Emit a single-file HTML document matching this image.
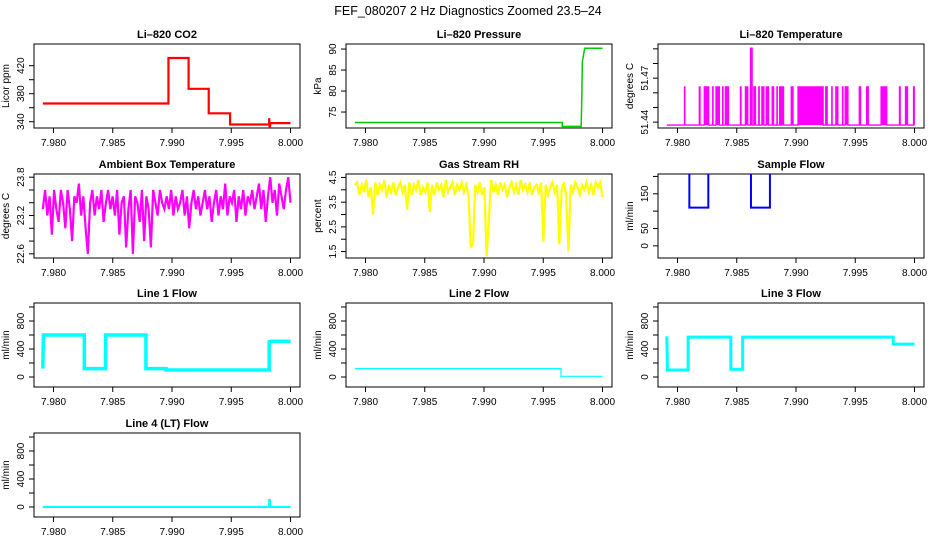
<!DOCTYPE html>
<html><head><meta charset="utf-8"><style>
body{margin:0;background:#fff}
svg{display:block;font-family:"Liberation Sans",Arial,sans-serif}
</style></head><body>
<svg id="c" width="936" height="540" viewBox="0 0 936 540">
<text x="468" y="15" text-anchor="middle" font-size="12.5">FEF_080207  2 Hz Diagnostics Zoomed 23.5–24</text>
</svg>
<script>
const xTicks=[7.980,7.985,7.990,7.995,8.000];
const xTickLabels=["7.980","7.985","7.990","7.995","8.000"];
const co2X=[7.9791,7.9897,7.9897,7.9914,7.9914,7.9931,7.9931,7.9949,7.9949,7.9982,7.9982,7.99825,7.9983,8.0000];
const co2Y=[366,366,431,431,387,387,352,352,336,336,345,330,338,338];
const presX=[7.9791,7.9966,7.9966,7.9982,7.99825,7.9983,7.9985,8.0000];
const presY=[72.5,72.5,71.6,71.6,78,87,90.2,90.2];
const tempPulseStart=[7.98059,7.98184,7.98226,7.98297,7.98325,7.98381,7.98404,7.98427,7.98531,7.98573,7.98616,7.98644,7.98686,7.98712,7.98749,7.98799,7.98839,7.98862,7.98880,7.98960,7.99017,7.99251,7.99302,7.99336,7.99393,7.99415,7.99534,7.99596,7.99718,7.99873,7.99924,7.99992];
const tempPulseEnd=[7.98062,7.98190,7.98263,7.98300,7.98353,7.98384,7.98418,7.98430,7.98536,7.98593,7.98630,7.98658,7.98690,7.98729,7.98768,7.98811,7.98842,7.98870,7.98895,7.98975,7.99229,7.99263,7.99305,7.99353,7.99396,7.99438,7.99545,7.99610,7.99766,7.99879,7.99941,7.99998];
const tempHigh=51.464, tempBase=51.438, tempSpikeX=7.98630, tempSpikeY=51.4905;
const ambY=[23.3,23.6,23.2,23.5,22.9,23.6,23.3,23.1,23.6,23.4,23.0,23.6,23.3,22.8,23.5,23.4,23.7,23.2,23.5,23.0,22.6,23.4,23.6,23.2,23.5,23.3,23.6,23.1,23.4,23.6,23.3,23.5,23.2,23.6,22.9,23.4,23.5,22.7,23.3,23.6,22.6,23.5,23.4,23.1,23.6,22.8,23.5,23.3,22.7,23.6,23.4,23.2,23.6,23.4,23.3,23.5,23.3,23.6,23.2,23.5,23.3,23.4,23.6,23.2,23.5,23.0,23.4,23.6,23.3,23.5,23.2,23.4,23.6,23.3,23.5,23.1,23.4,23.6,23.2,23.5,23.3,23.7,23.2,23.5,23.4,23.6,23.1,23.5,23.3,23.6,23.2,23.5,23.4,23.6,23.3,23.5,23.7,23.3,23.6,23.1,23.5,23.8,23.4,23.6,23.2,23.7,23.5,23.3,23.6,23.8,23.4];
const rhY=[4.2,4.3,3.8,4.2,3.9,4.4,3.7,4.1,3.0,4.3,3.8,4.2,4.0,4.4,3.7,4.2,3.9,4.3,3.8,4.1,4.3,3.9,4.2,3.2,4.3,3.8,4.2,4.0,4.4,3.8,4.1,3.9,4.3,3.1,4.2,3.8,4.3,4.0,4.2,3.7,4.4,3.9,4.1,4.3,3.8,4.2,4.0,4.3,3.9,4.2,3.8,1.7,1.8,4.2,3.9,4.3,3.8,4.1,1.3,2.8,4.4,3.9,4.2,3.8,4.3,4.0,4.2,3.7,4.1,4.3,3.9,4.2,3.8,4.4,4.0,4.2,3.9,4.3,3.8,4.1,4.2,3.9,4.3,1.9,4.2,3.8,4.1,4.3,3.9,4.2,1.8,4.0,4.3,3.8,1.5,4.2,3.9,4.3,4.1,3.8,4.2,4.0,4.3,3.9,4.2,3.8,4.3,4.1,4.3,3.7];
const sampX=[7.9791,7.9810,7.9810,7.9826,7.9826,7.9862,7.9862,7.9878,7.9878,8.0000];
const sampY=[400,400,110,110,400,400,110,110,400,400];
const l1X=[7.9791,7.97915,7.9826,7.9826,7.9844,7.9844,7.9878,7.9878,7.9895,7.9895,7.9982,7.9982,7.9984,8.0000];
const l1Y=[120,600,600,120,120,600,600,120,120,100,100,500,510,510];
const l2X=[7.9791,7.9965,7.9965,8.0000];
const l2Y=[120,120,10,10];
const l3X=[7.9791,7.97915,7.9792,7.9809,7.9809,7.9845,7.9845,7.9855,7.9855,7.9982,7.9982,8.0000];
const l3Y=[580,100,100,100,570,570,110,110,570,570,470,470];
const l4X=[7.9791,7.9982,7.9982,7.99825,7.9983,8.0000];
const l4Y=[0,0,100,100,0,0];

const svg=document.getElementById('c');
const NS='http://www.w3.org/2000/svg';
function mk(tag,attrs,parent){const e=document.createElementNS(NS,tag);for(const k in attrs)e.setAttribute(k,attrs[k]);(parent||svg).appendChild(e);return e;}
const colL=[34,346,658], rowT=[44,174,303,433], W=266, H=84;

function panel(id,col,row,title,ylab,ymin,ymax,yticks,ylabels,color){
  const L=colL[col],T=rowT[row];
  const g=mk('g',{});
  
  
  const sx=v=>L+19.5+(v-7.980)/0.02*237;
  const sy=v=>T+H-(v-ymin)/(ymax-ymin)*H;
  const t=mk('text',{x:L+W/2,y:T-6,'text-anchor':'middle','font-size':11,'font-weight':'bold'},g);t.textContent=title;
  
  
  const box=mk('rect',{x:L,y:T,width:W,height:H,fill:'none',stroke:'#000','stroke-width':1},g);
  
  
  xTicks.forEach((v,i)=>{
    mk('line',{x1:sx(v),x2:sx(v),y1:T+H,y2:T+H+5,stroke:'#000'},g);
    const tl=mk('text',{x:sx(v),y:T+H+18,'text-anchor':'middle','font-size':10},g);tl.textContent=xTickLabels[i];
    
    
  });
  yticks.forEach(v=>{mk('line',{x1:L,x2:L-5,y1:sy(v),y2:sy(v),stroke:'#000'},g);});
  ylabels.forEach(v=>{
    const y=sy(v);
    const tl=mk('text',{x:L-10,y:y,'text-anchor':'middle','font-size':10,transform:`rotate(-90 ${L-10} ${y})`},g);tl.textContent=String(v);
    
    
  });
  const yl=mk('text',{x:L-25,y:T+H/2,'text-anchor':'middle','font-size':10,transform:`rotate(-90 ${L-25} ${T+H/2})`},g);yl.textContent=ylab;
  
  
  const cid='clip-'+id;
  const cp=mk('clipPath',{id:cid},g);mk('rect',{x:L,y:T,width:W,height:H},cp);
  const dg=mk('g',{'clip-path':`url(#${cid})`},g);
  return {sx,sy,dg,color};
}
function line(p,xs,ys,sw,name){
  const d=xs.map((x,i)=>(i?'L':'M')+p.sx(x).toFixed(2)+' '+p.sy(ys[i]).toFixed(2)).join(' ');
  const e=mk('path',{d:d,fill:'none',stroke:p.color,'stroke-width':sw,'stroke-linejoin':'miter'},p.dg);
  
  
}
function evenX(n){const a=[];for(let i=0;i<n;i++)a.push(7.9791+i/(n-1)*0.0209);return a;}

let p=panel('co2',0,0,'Li–820 CO2','Licor ppm',331,451,[340,360,380,400,420],[340,380,420],'#ff0000');
line(p,co2X,co2Y,2.2,'co2-line');
p=panel('pressure',1,0,'Li–820 Pressure','kPa',71.2,91.2,[75,80,85,90],[75,80,85,90],'#00cc00');
line(p,presX,presY,1.5,'pressure-line');
p=panel('li-temp',2,0,'Li–820 Temperature','degrees C',51.436,51.4933,[51.44,51.45,51.46,51.47,51.48,51.49],[51.44,51.47],'#ff00ff');
{const xs=[7.9791],ys=[tempBase];
 tempPulseStart.forEach((s,i)=>{const e=tempPulseEnd[i];const hi=(s<=tempSpikeX&&e>=tempSpikeX)?tempSpikeY:tempHigh;xs.push(s,s,e,e);ys.push(tempBase,hi,hi,tempBase);});
 xs.push(8.0);ys.push(tempBase);
 const e=mk('path',{d:xs.map((x,i)=>(i?'L':'M')+p.sx(x).toFixed(2)+' '+p.sy(ys[i]).toFixed(2)).join(' '),fill:'#ff00ff',stroke:'#ff00ff','stroke-width':1.3},p.dg);
 
 }
p=panel('ambient',0,1,'Ambient Box Temperature','degrees C',22.535,23.85,[22.6,22.8,23.0,23.2,23.4,23.6,23.8],[22.6,23.2,23.8],'#ff00ff');
line(p,evenX(ambY.length),ambY,2.2,'ambient-line');
p=panel('rh',1,1,'Gas Stream RH','percent',1.24,4.64,[1.5,2,2.5,3,3.5,4,4.5],[1.5,2.5,3.5,4.5],'#ffff00');
line(p,evenX(rhY.length),rhY,2.2,'rh-line');
p=panel('sample-flow',2,1,'Sample Flow','ml/min',-35,207,[0,50,100,150,200],[0,50,150],'#0000ff');
line(p,sampX,sampY,2,'sample-flow-line');
p=panel('line1',0,2,'Line 1 Flow','ml/min',-143,1057,[0,200,400,600,800,1000],[0,400,800],'#00ffff');
line(p,l1X,l1Y,3.5,'line1-flow-line');
p=panel('line2',1,2,'Line 2 Flow','ml/min',-143,1057,[0,200,400,600,800,1000],[0,400,800],'#00ffff');
line(p,l2X,l2Y,1.2,'line2-flow-line');
p=panel('line3',2,2,'Line 3 Flow','ml/min',-143,1057,[0,200,400,600,800,1000],[0,400,800],'#00ffff');
line(p,l3X,l3Y,3,'line3-flow-line');
p=panel('line4',0,3,'Line 4 (LT) Flow','ml/min',-143,1057,[0,200,400,600,800,1000],[0,400,800],'#00ffff');
line(p,l4X,l4Y,2,'line4-flow-line');
</script>
</body></html>
